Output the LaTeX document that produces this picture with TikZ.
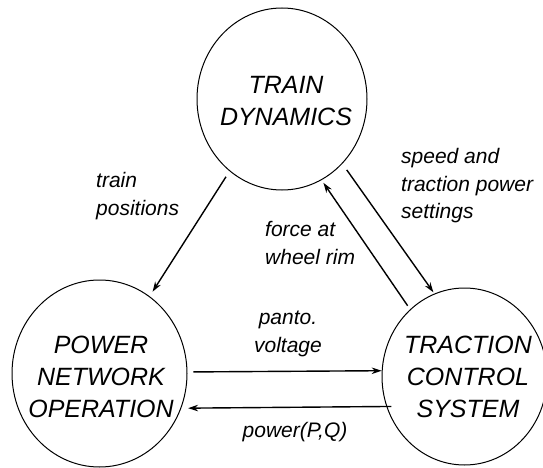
\documentclass[tikz,border=0pt]{standalone}
\usepackage{fontspec}
\setmainfont{Liberation Sans}
\usetikzlibrary{arrows.meta,shapes.geometric}

\begin{document}
\begin{tikzpicture}[x=1pt,y=-1pt,
  block/.style={draw,ellipse,line width=1pt,inner sep=0pt},
  blocktext/.style={font=\fontsize{25}{32}\selectfont\itshape,align=center,inner sep=0pt},
  flowlabel/.style={font=\fontsize{21}{27.5}\selectfont\itshape,inner sep=0pt},
  flow/.style={line width=1.4pt,-{Stealth[length=10pt,width=6.5pt]}}]
\useasboundingbox (0,0) rectangle (543,468);
% the three subsystems
\node[block,minimum width=170pt,minimum height=182pt] (td) at (282,99) {};
\node[block,minimum width=175pt,minimum height=187pt] (pn) at (99.5,373.5) {};
\node[block,minimum width=165pt,minimum height=177pt] (tc) at (464.5,376.5) {};
\node[blocktext] (tdtext) at (286,101) {TRAIN\\DYNAMICS};
\node[blocktext] (pntext) at (101,377) {POWER\\NETWORK\\OPERATION};
\node[blocktext] (tctext) at (468,377) {TRACTION\\CONTROL\\SYSTEM};
% couplings
\draw[flow,shorten <=6.6pt,shorten >=5.4pt] (td.234.8) -- (pn.57.2);
\draw[flow,shorten <=4.3pt,shorten >=3.3pt] (tc.129.6) -- (td.296.8);
\draw[flow,shorten <=7.5pt,shorten >=1.6pt] (td.313.7) -- (tc.110.7);
\draw[flow,shorten <=6pt] (pn.1.6) -- (tc.176.2);
\draw[flow,shorten <=-5pt,shorten >=6.8pt] (tc.201.5) -- (pn.337.7);
% what they exchange
\node[flowlabel,anchor=west,align=left] (poslabel) at (96,196) {train\\positions};
\node[flowlabel,anchor=west,align=left] (forcelabel) at (265,243) {force at\\wheel rim};
\node[flowlabel,anchor=west,align=left] (speedlabel) at (401,186) {speed and\\traction power\\settings};
\node[flowlabel,align=center] (voltlabel) at (288,334) {panto.\\voltage};
\node[flowlabel] (powlabel) at (295,432) {power(P,Q)};
\end{tikzpicture}
\end{document}
